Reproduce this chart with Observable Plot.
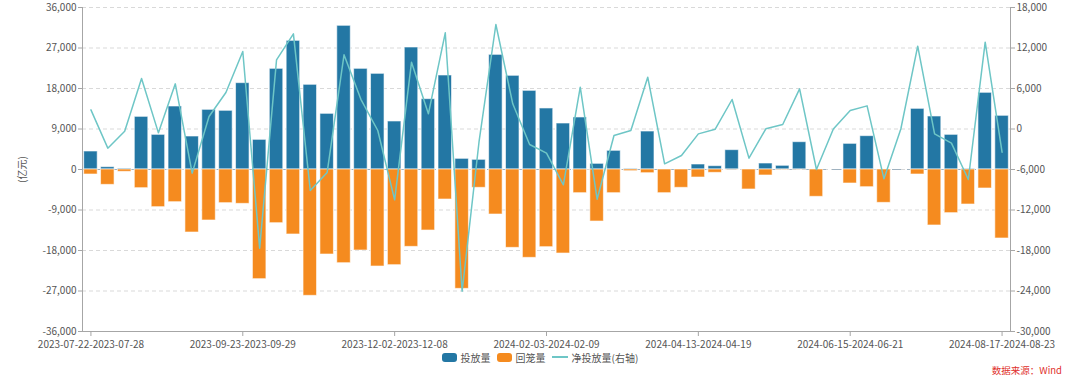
<!DOCTYPE html>
<html>
<head>
<meta charset="utf-8">
<script src="https://cdn.jsdelivr.net/npm/d3@7"></script>
<script src="https://cdn.jsdelivr.net/npm/@observablehq/plot@0.6"></script>
<style>
  html, body { margin: 0; padding: 0; background: #fff; }
  body { width: 1080px; height: 382px; overflow: hidden; font-family: "Noto Sans CJK SC", "Noto Sans", sans-serif; }
  #chart svg { display: block; }
  .legend { height: 14px; display: flex; justify-content: center; align-items: center; gap: 0; font-size: 10px; color: #555; padding-left: 0px; }
  .legend .item { display: flex; align-items: center; margin: 0 3px; }
  .legend .sw { width: 15px; height: 9px; border-radius: 3px; margin-right: 4px; }
  .legend .ln { width: 16px; height: 2px; margin-right: 4px; }
  .source { height: 13px; text-align: right; padding-right: 18px; font-size: 9.5px; color: #e0302c; line-height: 13px; }
</style>
</head>
<body>
<div id="chart"></div>
<div class="legend">
  <div class="item"><div class="sw" style="background:#2377a4"></div><span>投放量</span></div>
  <div class="item"><div class="sw" style="background:#f58b1f"></div><span>回笼量</span></div>
  <div class="item"><div class="ln" style="background:#6ec6c6"></div><span>净投放量(右轴)</span></div>
</div>
<div class="source">数据来源：Wind</div>
<script>
// Week start dates (weekly, Sat–Fri)
const weekStarts = [
  "2023-07-22","2023-07-29","2023-08-05","2023-08-12","2023-08-19","2023-08-26","2023-09-02","2023-09-09","2023-09-16","2023-09-23",
  "2023-10-07","2023-10-14","2023-10-21","2023-10-28","2023-11-04","2023-11-11","2023-11-18","2023-11-25","2023-12-02","2023-12-09",
  "2023-12-16","2023-12-23","2023-12-30","2024-01-06","2024-01-13","2024-01-20","2024-01-27","2024-02-03","2024-02-17","2024-02-24",
  "2024-03-02","2024-03-09","2024-03-16","2024-03-23","2024-03-30","2024-04-06","2024-04-13","2024-04-20","2024-04-27","2024-05-04",
  "2024-05-11","2024-05-18","2024-05-25","2024-06-01","2024-06-08","2024-06-15","2024-06-22","2024-06-29","2024-07-06","2024-07-13",
  "2024-07-20","2024-07-27","2024-08-03","2024-08-10","2024-08-17"
];
// 投放量 (亿元)
const invest = [
  4000, 520, 220, 11700, 7700, 14000, 7330, 13260, 13040, 19190,
  6590, 22370, 28590, 18820, 12370, 31930, 22370, 21260, 10670, 27110,
  15630, 20890, 2370, 2150, 25480, 20820, 17480, 13560, 10220, 11560,
  1260, 4150, 150, 8440, 0, 0, 1110, 740, 4300, 0,
  1330, 820, 6070, 0, 0, 5700, 7410, 0, 0, 13480,
  11780, 7700, 150, 17040, 11930
];
// 回笼量 (亿元, plotted negative)
const redeem = [
  -1110, -3410, -520, -4150, -8370, -7260, -14000, -11330, -7480, -7630,
  -24370, -11930, -14440, -28070, -18890, -20820, -18000, -21560, -21260, -17190,
  -13560, -6670, -26520, -4070, -10000, -17410, -19630, -17260, -18670, -5260,
  -11560, -5260, -370, -820, -5260, -4070, -1780, -740, -50, -4440,
  -1330, -100, -50, -6070, 0, -3110, -3930, -7410, 0, -1110,
  -12440, -9700, -7780, -4220, -15330
];
// 净投放量 (亿元, right axis)
const net = [
  2840, -2840, -320, 7480, -570, 6690, -6540, 1850, 5410, 11480,
  -17650, 10250, 14100, -9110, -6440, 10990, 4400, -220, -10490, 9900,
  2250, 14250, -24030, -1920, 15480, 3730, -2300, -3580, -8270, 6200,
  -10400, -960, -220, 7680, -5160, -3930, -720, -30, 4370, -4320,
  30, 670, 5950, -6000, 0, 2740, 3430, -7380, 0, 12270,
  -720, -2100, -7480, 12860, -3430
];
// Left-axis ticks; right axis is a linear re-labelling of the same scale
const leftTicks = [-36000, -27000, -18000, -9000, 0, 9000, 18000, 27000, 36000];
const labelEvery = 9;

const toRight = v => (v - 9000) / 1.5;   // left-units -> right-axis units
const fromRight = v => 9000 + v * 1.5;   // right-axis units -> left-units

const parse = d3.utcParse("%Y-%m-%d");
const fmtD = d3.utcFormat("%Y-%m-%d");
const labels = weekStarts.map(s => `${s}-${fmtD(d3.utcDay.offset(parse(s), 6))}`);

const data = labels.map((w, i) => ({ w, invest: invest[i], redeem: redeem[i], net: net[i], netL: fromRight(net[i]) }));
const tickLabels = labels.filter((d, i) => i % labelEvery === 0);
const num = v => Math.round(v).toLocaleString("en-US");

const chart = Plot.plot({
  width: 1080,
  height: 350,
  marginTop: 7,
  marginBottom: 19,
  marginLeft: 82,
  marginRight: 70,
  style: { fontFamily: '"Noto Sans CJK SC", "Noto Sans", sans-serif', fontSize: "10px", color: "#555", background: "#fff" },
  x: { type: "band", domain: labels, paddingInner: 0.2, paddingOuter: 0.1 },
  y: { domain: [-36000, 36000], nice: false },
  marks: [
    Plot.gridY(leftTicks, { stroke: "#d9d9d9", strokeOpacity: 1, strokeDasharray: "4,3" }),
    Plot.ruleY([0], { stroke: "#9fb2c0", strokeDasharray: "9,6", strokeWidth: 1 }),
    Plot.barY(data, { x: "w", y1: 0, y2: "invest", fill: "#2377a4", stroke: "#ffffff", strokeWidth: 1, strokeOpacity: 0.6 }),
    Plot.barY(data, { x: "w", y1: 0, y2: "redeem", fill: "#f58b1f", stroke: "#ffffff", strokeWidth: 1, strokeOpacity: 0.6 }),
    Plot.line(data, { x: "w", y: "netL", stroke: "#6ec6c6", strokeWidth: 1.5 }),
    Plot.frame({ anchor: "left", stroke: "#a6a6a6" }),
    Plot.frame({ anchor: "right", stroke: "#a6a6a6" }),
    Plot.frame({ anchor: "bottom", stroke: "#a6a6a6" }),
    Plot.axisY(leftTicks, { anchor: "left", tickFormat: num, tickSize: 4, tickPadding: 2, stroke: "#a6a6a6", fill: "#555",
      label: "(亿元)", labelAnchor: "center", labelOffset: 64, labelArrow: "none" }),
    Plot.axisY(leftTicks, { anchor: "right", tickFormat: d => num(toRight(d)), tickSize: 4, tickPadding: 2, stroke: "#a6a6a6", fill: "#555", label: null }),
    Plot.axisX(tickLabels, { anchor: "bottom", tickSize: 5, tickPadding: 4, stroke: "#a6a6a6", fill: "#555", label: null })
  ]
});
document.getElementById("chart").appendChild(chart);
</script>
</body>
</html>
